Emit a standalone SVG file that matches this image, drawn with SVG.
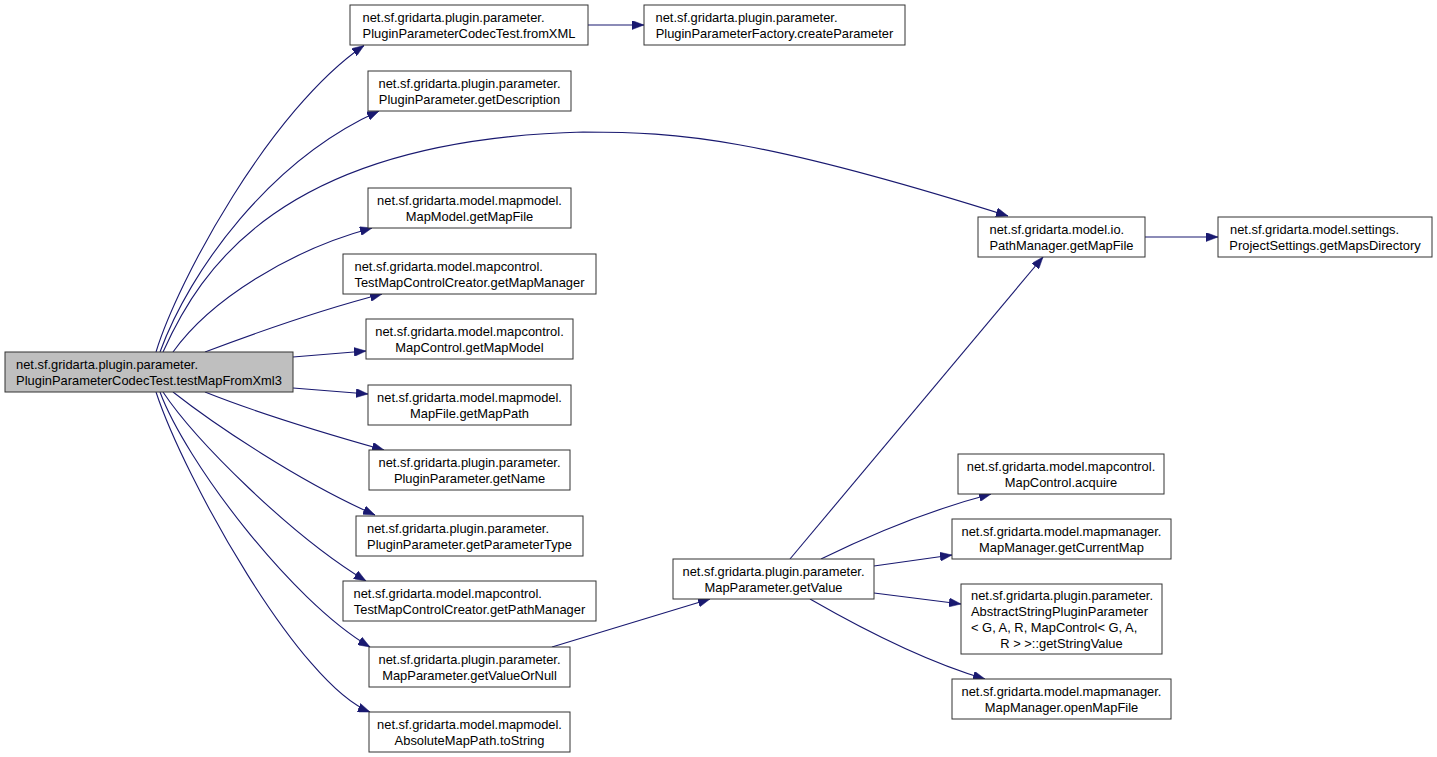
<svg xmlns="http://www.w3.org/2000/svg" width="1437" height="757" viewBox="0 0 1437 757">
<style>
.node rect{fill:#ffffff;stroke:#333333;stroke-width:1}
.root rect{fill:#bfbfbf}
text{font-family:"Liberation Sans",Arial,Helvetica,sans-serif;font-size:12.9px;fill:#000000}
.c{text-anchor:middle}
.edge{fill:none;stroke:#191970;stroke-width:1.1;marker-end:url(#arr)}
</style>
<defs>
<marker id="arr" markerUnits="userSpaceOnUse" markerWidth="12" markerHeight="9" viewBox="0 0 12 9" refX="12" refY="4.5" orient="auto">
<path d="M0,0 L12,4.5 L0,9 z" fill="#191970" stroke="#191970" stroke-width="0.5"/>
</marker>
</defs>
<rect x="0" y="0" width="1437" height="757" fill="#ffffff"/>
<g id="connectors">
<path class="edge" d="M156,352 C178,280 270,110 364,45.5"/>
<path class="edge" d="M160,352 C190,270 270,160 379,111"/>
<path class="edge" d="M163,352 C200,270 280,140 583,132 C680,132 760,138 1008,216"/>
<path class="edge" d="M173,352 C210,300 290,250 372,228"/>
<path class="edge" d="M205,352 C250,335 320,310 382,294"/>
<path class="edge" d="M293,357 L366,351"/>
<path class="edge" d="M293,388 L368,394"/>
<path class="edge" d="M205,392 C250,410 320,432 384,450"/>
<path class="edge" d="M173,392 C215,425 300,482 375,515"/>
<path class="edge" d="M163,392 C195,440 290,535 366,581"/>
<path class="edge" d="M160,392 C185,460 290,600 370,647"/>
<path class="edge" d="M156,392 C185,480 300,685 370,712"/>
<path class="edge" d="M588,25 L644,25"/>
<path class="edge" d="M552,647 L710,599"/>
<path class="edge" d="M790,559 L1043,257"/>
<path class="edge" d="M821,559 C870,535 930,510 991,494"/>
<path class="edge" d="M874,566 L952,555"/>
<path class="edge" d="M874,593 L961,604"/>
<path class="edge" d="M810,599 C850,622 920,660 985,679"/>
<path class="edge" d="M1145,237 L1218,237"/>
</g>
<g id="node_root" class="node root">
<rect x="5" y="352" width="288" height="40"/>
<text x="16" y="368.5">net.sf.gridarta.plugin.parameter.</text>
<text class="c" x="149" y="384.5">PluginParameterCodecTest.testMapFromXml3</text>
</g>
<g id="node_fromXML" class="node">
<rect x="350" y="5" width="238" height="40"/>
<text x="362.5" y="21.5">net.sf.gridarta.plugin.parameter.</text>
<text class="c" x="469" y="37.5">PluginParameterCodecTest.fromXML</text>
</g>
<g id="node_createParameter" class="node">
<rect x="644" y="5" width="261" height="40"/>
<text x="655.5" y="21.5">net.sf.gridarta.plugin.parameter.</text>
<text class="c" x="774.5" y="37.5">PluginParameterFactory.createParameter</text>
</g>
<g id="node_getDescription" class="node">
<rect x="368" y="71" width="203" height="40"/>
<text class="c" x="469.5" y="87.5">net.sf.gridarta.plugin.parameter.</text>
<text class="c" x="469.5" y="103.5">PluginParameter.getDescription</text>
</g>
<g id="node_MapModel_getMapFile" class="node">
<rect x="368" y="188" width="203" height="40"/>
<text class="c" x="469.5" y="204.5">net.sf.gridarta.model.mapmodel.</text>
<text class="c" x="469.5" y="220.5">MapModel.getMapFile</text>
</g>
<g id="node_getMapManager" class="node">
<rect x="343" y="254" width="253" height="40"/>
<text x="354.5" y="270.5">net.sf.gridarta.model.mapcontrol.</text>
<text class="c" x="469.5" y="286.5">TestMapControlCreator.getMapManager</text>
</g>
<g id="node_getMapModel" class="node">
<rect x="366" y="319" width="207" height="40"/>
<text class="c" x="469.5" y="335.5">net.sf.gridarta.model.mapcontrol.</text>
<text class="c" x="469.5" y="351.5">MapControl.getMapModel</text>
</g>
<g id="node_getMapPath" class="node">
<rect x="368" y="385" width="203" height="40"/>
<text class="c" x="469.5" y="401.5">net.sf.gridarta.model.mapmodel.</text>
<text class="c" x="469.5" y="417.5">MapFile.getMapPath</text>
</g>
<g id="node_getName" class="node">
<rect x="369" y="450" width="201" height="40"/>
<text class="c" x="469.5" y="466.5">net.sf.gridarta.plugin.parameter.</text>
<text class="c" x="469.5" y="482.5">PluginParameter.getName</text>
</g>
<g id="node_getParameterType" class="node">
<rect x="356" y="516" width="227" height="40"/>
<text x="367" y="532.5">net.sf.gridarta.plugin.parameter.</text>
<text class="c" x="469.5" y="548.5">PluginParameter.getParameterType</text>
</g>
<g id="node_getPathManager" class="node">
<rect x="343" y="581" width="253" height="40"/>
<text x="353.5" y="597.5">net.sf.gridarta.model.mapcontrol.</text>
<text class="c" x="469.5" y="613.5">TestMapControlCreator.getPathManager</text>
</g>
<g id="node_getValueOrNull" class="node">
<rect x="369" y="647" width="201" height="40"/>
<text class="c" x="469.5" y="663.5">net.sf.gridarta.plugin.parameter.</text>
<text class="c" x="469.5" y="679.5">MapParameter.getValueOrNull</text>
</g>
<g id="node_toString" class="node">
<rect x="369" y="712" width="201" height="40"/>
<text class="c" x="469.5" y="728.5">net.sf.gridarta.model.mapmodel.</text>
<text class="c" x="469.5" y="744.5">AbsoluteMapPath.toString</text>
</g>
<g id="node_getValue" class="node">
<rect x="673" y="559" width="201" height="40"/>
<text class="c" x="773.5" y="575.5">net.sf.gridarta.plugin.parameter.</text>
<text class="c" x="773.5" y="591.5">MapParameter.getValue</text>
</g>
<g id="node_PathManager_getMapFile" class="node">
<rect x="978" y="217" width="167" height="40"/>
<text x="989.5" y="233.5">net.sf.gridarta.model.io.</text>
<text class="c" x="1061.5" y="249.5">PathManager.getMapFile</text>
</g>
<g id="node_getMapsDirectory" class="node">
<rect x="1218" y="217" width="214" height="40"/>
<text x="1230" y="233.5">net.sf.gridarta.model.settings.</text>
<text class="c" x="1325" y="249.5">ProjectSettings.getMapsDirectory</text>
</g>
<g id="node_acquire" class="node">
<rect x="958" y="454" width="206" height="40"/>
<text class="c" x="1061" y="470.5">net.sf.gridarta.model.mapcontrol.</text>
<text class="c" x="1061" y="486.5">MapControl.acquire</text>
</g>
<g id="node_getCurrentMap" class="node">
<rect x="952" y="519" width="219" height="40"/>
<text class="c" x="1061.5" y="535.5">net.sf.gridarta.model.mapmanager.</text>
<text class="c" x="1061.5" y="551.5">MapManager.getCurrentMap</text>
</g>
<g id="node_getStringValue" class="node">
<rect x="961" y="584" width="201" height="70"/>
<text x="971" y="599.5">net.sf.gridarta.plugin.parameter.</text>
<text x="971" y="615.5">AbstractStringPluginParameter</text>
<text x="971" y="631.5" xml:space="preserve">&lt; G, A, R, MapControl&lt; G, A,</text>
<text class="c" x="1061.5" y="647.5">R &gt; &gt;::getStringValue</text>
</g>
<g id="node_openMapFile" class="node">
<rect x="952" y="679" width="219" height="40"/>
<text class="c" x="1061.5" y="695.5">net.sf.gridarta.model.mapmanager.</text>
<text class="c" x="1061.5" y="711.5">MapManager.openMapFile</text>
</g>
</svg>
